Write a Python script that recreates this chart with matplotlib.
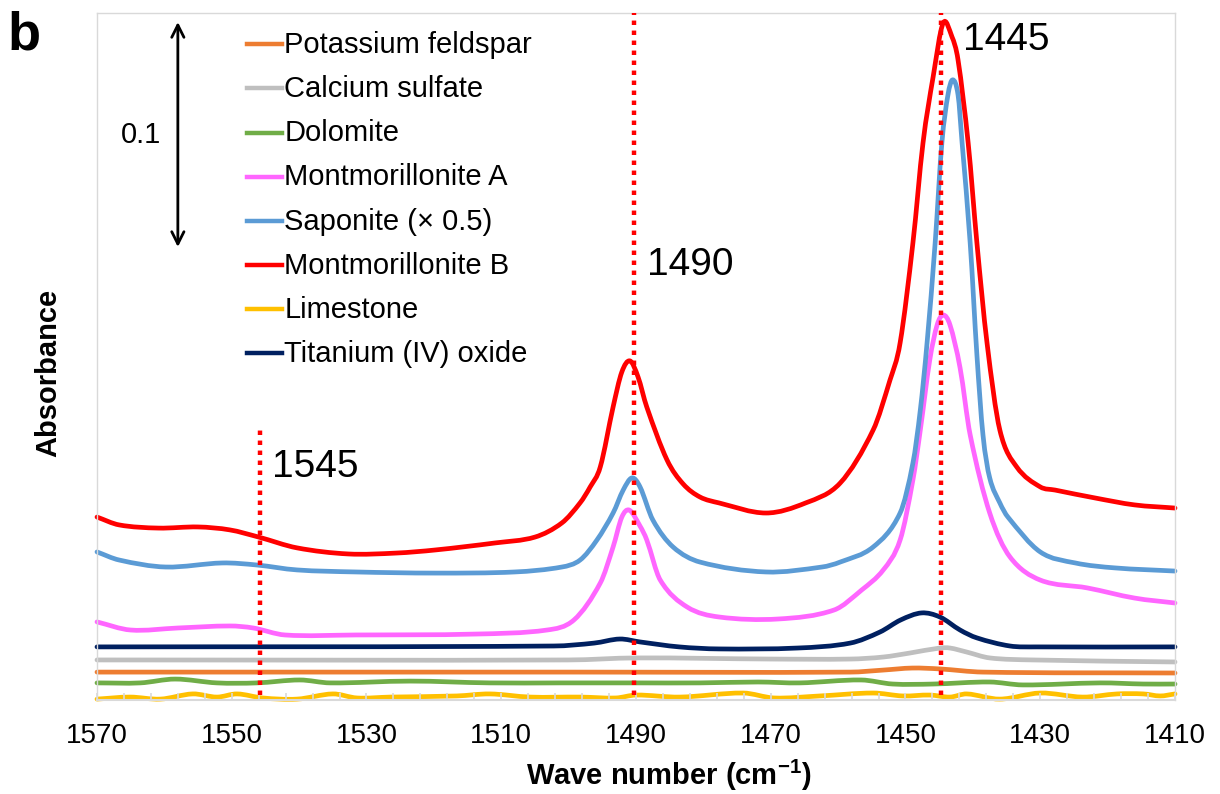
import numpy as np
import matplotlib.pyplot as plt
from matplotlib.path import Path
from matplotlib.patches import PathPatch
from matplotlib.lines import Line2D

plt.rcParams['font.family'] = ['Liberation Sans', 'DejaVu Sans']
plt.rcParams['mathtext.fontset'] = 'custom'
plt.rcParams['mathtext.rm'] = 'Liberation Sans'
plt.rcParams['mathtext.bf'] = 'Liberation Sans:bold'

# wave number (cm-1) and absorbance
wn_kfs = [1570.0, 1500.0, 1458.2, 1453.3, 1449.0, 1444.9, 1438.5, 1410.0]
a_kfs = [0.0124, 0.0124, 0.0124, 0.0133, 0.0142, 0.0138, 0.0124, 0.0120]

wn_caso4 = [1570.0, 1500.0, 1490.0, 1470.0, 1458.2, 1453.3, 1449.3, 1444.9, 1443.4,
            1440.9, 1437.5, 1431.1, 1410.0]
a_caso4 = [0.0178, 0.0178, 0.0187, 0.0182, 0.0182, 0.0191, 0.0209, 0.0231, 0.0231,
           0.0213, 0.0187, 0.0178, 0.0169]

wn_dolo = [1570.0, 1563.6, 1558.4, 1552.2, 1546.3, 1539.9, 1535.4, 1523.5, 1511.7,
           1501.3, 1490.0, 1480.5, 1471.9, 1465.7, 1456.6, 1451.9, 1445.9, 1437.5,
           1432.6, 1421.1, 1414.7, 1410.0]
a_dolo = [0.0076, 0.0076, 0.0093, 0.0076, 0.0076, 0.0089, 0.0076, 0.0084, 0.0076,
          0.0076, 0.0076, 0.0076, 0.0080, 0.0076, 0.0089, 0.0071, 0.0071, 0.0080,
          0.0067, 0.0076, 0.0071, 0.0071]

wn_mmt_a = [1570.0, 1565.0, 1558.0, 1550.3, 1546.8, 1542.1, 1531.6, 1513.9, 1503.2,
            1499.2, 1495.3, 1493.4, 1492.1, 1491.0, 1489.4, 1488.4, 1486.4, 1482.4,
            1477.7, 1468.9, 1460.6, 1456.5, 1453.3, 1450.8, 1448.9, 1447.8, 1446.4,
            1445.3, 1444.4, 1443.4, 1441.9, 1440.4, 1437.5, 1434.5, 1430.0, 1423.0,
            1416.0, 1410.0]
a_mmt_a = [0.0347, 0.0311, 0.0320, 0.0329, 0.0320, 0.0289, 0.0289, 0.0293, 0.0311,
           0.0356, 0.0520, 0.0680, 0.0813, 0.0844, 0.0773, 0.0711, 0.0533, 0.0413,
           0.0369, 0.0360, 0.0400, 0.0489, 0.0578, 0.0711, 0.0978, 0.1200, 0.1511,
           0.1667, 0.1711, 0.1667, 0.1476, 0.1178, 0.0831, 0.0636, 0.0533, 0.0498,
           0.0453, 0.0431]

wn_sap = [1570.0, 1566.7, 1559.8, 1551.4, 1546.3, 1540.3, 1531.6, 1519.7, 1508.0,
          1501.0, 1498.3, 1495.8, 1493.4, 1491.9, 1490.6, 1489.4, 1487.5, 1484.5,
          1480.5, 1470.7, 1462.4, 1459.7, 1454.8, 1450.8, 1448.9, 1447.8, 1446.8,
          1445.6, 1444.6, 1443.7, 1443.0, 1442.2, 1441.6, 1440.4, 1439.4, 1438.5,
          1437.5, 1436.0, 1434.8, 1430.0, 1424.8, 1418.9, 1410.0]
a_sap = [0.0658, 0.0622, 0.0591, 0.0609, 0.0600, 0.0578, 0.0569, 0.0564, 0.0569,
         0.0591, 0.0622, 0.0711, 0.0831, 0.0933, 0.0987, 0.0947, 0.0800, 0.0680,
         0.0613, 0.0569, 0.0591, 0.0613, 0.0680, 0.0831, 0.1053, 0.1289, 0.1587,
         0.2031, 0.2476, 0.2689, 0.2756, 0.2689, 0.2476, 0.2031, 0.1533, 0.1178,
         0.0987, 0.0876, 0.0813, 0.0658, 0.0609, 0.0587, 0.0573]

wn_mmt_b = [1570.0, 1566.7, 1560.9, 1555.0, 1550.3, 1546.0, 1540.3, 1532.7, 1525.6,
            1519.7, 1510.9, 1505.0, 1501.0, 1498.3, 1496.8, 1495.3, 1493.4, 1492.1,
            1490.9, 1489.7, 1488.4, 1485.4, 1483.0, 1480.5, 1477.7, 1470.7, 1464.8,
            1459.7, 1454.8, 1452.3, 1450.8, 1448.9, 1447.4, 1445.9, 1444.4, 1443.1,
            1442.2, 1440.7, 1439.4, 1437.9, 1436.0, 1433.5, 1430.0, 1427.8, 1421.9,
            1416.0, 1410.0]
a_mmt_b = [0.0813, 0.0778, 0.0764, 0.0769, 0.0756, 0.0724, 0.0676, 0.0649, 0.0653,
           0.0667, 0.0698, 0.0724, 0.0787, 0.0876, 0.0947, 0.1036, 0.1302, 0.1458,
           0.1507, 0.1436, 0.1302, 0.1067, 0.0960, 0.0902, 0.0876, 0.0831, 0.0876,
           0.0964, 0.1200, 0.1422, 0.1587, 0.2031, 0.2476, 0.2769, 0.3009, 0.2947,
           0.2844, 0.2476, 0.2031, 0.1587, 0.1200, 0.1036, 0.0947, 0.0933, 0.0898,
           0.0867, 0.0853]

wn_lime = [1570.0, 1565.1, 1560.6, 1555.8, 1552.2, 1549.2, 1545.4, 1540.3, 1535.0,
           1531.4, 1526.5, 1516.6, 1511.7, 1505.7, 1498.3, 1493.0, 1490.0, 1483.5,
           1474.1, 1469.5, 1462.7, 1454.8, 1450.4, 1446.4, 1443.4, 1440.9, 1436.0,
           1430.0, 1423.7, 1418.6, 1414.7, 1412.2, 1410.0]
a_lime = [0.0004, 0.0013, 0.0004, 0.0027, 0.0013, 0.0027, 0.0009, 0.0004, 0.0027,
          0.0009, 0.0013, 0.0018, 0.0027, 0.0013, 0.0013, 0.0009, 0.0022, 0.0013,
          0.0031, 0.0009, 0.0018, 0.0031, 0.0018, 0.0022, 0.0013, 0.0027, 0.0004,
          0.0031, 0.0013, 0.0027, 0.0027, 0.0018, 0.0027]

wn_tio2 = [1570.0, 1502.2, 1496.2, 1492.4, 1489.4, 1483.6, 1477.7, 1466.0, 1458.2,
           1453.8, 1450.7, 1447.6, 1444.9, 1441.9, 1439.4, 1434.5, 1430.6, 1410.0]
a_tio2 = [0.0236, 0.0240, 0.0253, 0.0271, 0.0258, 0.0236, 0.0227, 0.0231, 0.0253,
          0.0302, 0.0356, 0.0387, 0.0369, 0.0311, 0.0276, 0.0240, 0.0236, 0.0236]

labels = ["Potassium feldspar", "Calcium sulfate", "Dolomite", "Montmorillonite A",
          "Saponite (\u00d7 0.5)", "Montmorillonite B", "Limestone", "Titanium (IV) oxide"]
colors = ["#ED7D31", "#BFBFBF", "#70AD47", "#FF66FF", "#5B9BD5", "#FF0000",
          "#FFC000", "#002060"]
series = [(wn_kfs, a_kfs), (wn_caso4, a_caso4), (wn_dolo, a_dolo), (wn_mmt_a, a_mmt_a),
          (wn_sap, a_sap), (wn_mmt_b, a_mmt_b), (wn_lime, a_lime), (wn_tio2, a_tio2)]

# marked bands
peak_wn = [1545.8, 1490.3, 1444.7]
peak_labels = ["1545", "1490", "1445"]
peak_line_top = [0.1204, 0.3053, 0.3053]
peak_text_pos = [(1544.1, 0.0991), (1488.4, 0.1889), (1441.4, 0.2889)]


def smooth_line(ax, x, y, color):
    # smoothed line through the points (like Excel), drawn as cubic Bezier segments
    x = np.asarray(x, float)
    y = np.asarray(y, float)
    n = len(x)
    m = np.zeros(n)
    m[0] = (y[1] - y[0]) / (x[1] - x[0])
    m[-1] = (y[-1] - y[-2]) / (x[-1] - x[-2])
    m[1:-1] = (y[2:] - y[:-2]) / (x[2:] - x[:-2])
    verts = [(x[0], y[0])]
    codes = [Path.MOVETO]
    for i in range(n - 1):
        h = x[i + 1] - x[i]
        verts += [(x[i] + h / 3, y[i] + m[i] * h / 3),
                  (x[i + 1] - h / 3, y[i + 1] - m[i + 1] * h / 3),
                  (x[i + 1], y[i + 1])]
        codes += [Path.CURVE4] * 3
    ax.add_patch(PathPatch(Path(verts, codes), fill=False, edgecolor=color, lw=3.4,
                           capstyle='round', joinstyle='round', clip_on=False))


fig = plt.figure(figsize=(12.2, 7.94), dpi=100)
ax = fig.add_axes([97 / 1220, 94 / 794, 1078 / 1220, 687 / 794])

for (x, y), c in zip(series, colors):
    smooth_line(ax, x, y, c)

for w, top, lab, (tx, ty) in zip(peak_wn, peak_line_top, peak_labels, peak_text_pos):
    ax.plot([w, w], [0.0022, top], color='#FF0000', lw=3.2, dashes=(1, 1.25), zorder=5,
            clip_on=False)
    ax.text(tx, ty, lab, fontsize=28, ha='left', va='baseline')

# 0.1 absorbance scale bar
ax.annotate('', xy=(1558.0, 0.3013), xytext=(1558.0, 0.2013),
            arrowprops=dict(arrowstyle='<->', lw=2, color='black', mutation_scale=22,
                            shrinkA=0, shrinkB=0))
ax.text(1563.5, 0.2476, '0.1', fontsize=21, ha='center', va='baseline')

ax.set_xlim(1570, 1410)
ax.set_ylim(0, 0.3053)
ax.set_xticks(np.arange(1570, 1409, -20))
ax.set_xticks(np.arange(1570, 1409, -4), minor=True)
ax.set_yticks([])
ax.tick_params(axis='x', which='both', direction='in', color='#D9D9D9', length=5,
               width=1.2, labelsize=20, pad=16.5)
for s in ax.spines.values():
    s.set_color('#D9D9D9')
    s.set_linewidth(1)
ax.spines['bottom'].set_linewidth(1.5)

# legend drawn by hand to keep the Excel spacing
for i, (lab, col) in enumerate(zip(labels, colors)):
    yy = 1 - (44.3 + 44.1 * i) / 794
    fig.add_artist(Line2D([0.2022, 0.2309], [yy, yy], transform=fig.transFigure,
                          color=col, lw=3.2))
    fig.text(0.2330, yy - 8.8 / 794, lab, fontsize=21, va='baseline')

fig.text(48 / 1220, 1 - 373 / 794, 'Absorbance', rotation=90, ha='center',
         va='center', fontsize=21, fontweight='bold')
fig.text(669 / 1220, 1 - 775 / 794, r'Wave number (cm$^{\mathbf{-1}}$)', ha='center',
         va='center', fontsize=21, fontweight='bold')
fig.text(0.006, 1 - 10 / 794, 'b', fontsize=39, fontweight='bold', va='top')

fig.savefig('out.png', dpi=100, facecolor='white')
